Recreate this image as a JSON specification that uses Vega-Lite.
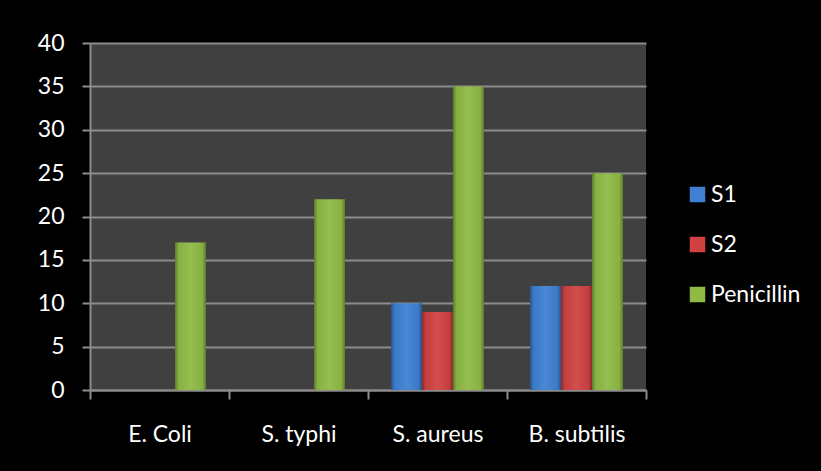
{
  "$schema": "https://vega.github.io/schema/vega-lite/v6.json",
  "autosize": {"type": "none"},
  "width": 556,
  "height": 347,
  "padding": {"left": 90, "top": 43, "right": 175, "bottom": 81},
  "background": "#000000",
  "view": {"fill": "#404040", "stroke": null},
  "config": {"font": "Lato"},
  "data": {
    "values": [
      {"organism": "E. Coli", "series": "S1", "value": 0},
      {"organism": "E. Coli", "series": "S2", "value": 0},
      {"organism": "E. Coli", "series": "Penicillin", "value": 17},
      {"organism": "S. typhi", "series": "S1", "value": 0},
      {"organism": "S. typhi", "series": "S2", "value": 0},
      {"organism": "S. typhi", "series": "Penicillin", "value": 22},
      {"organism": "S. aureus", "series": "S1", "value": 10},
      {"organism": "S. aureus", "series": "S2", "value": 9},
      {"organism": "S. aureus", "series": "Penicillin", "value": 35},
      {"organism": "B. subtilis", "series": "S1", "value": 12},
      {"organism": "B. subtilis", "series": "S2", "value": 12},
      {"organism": "B. subtilis", "series": "Penicillin", "value": 25}
    ]
  },
  "encoding": {
    "x": {
      "field": "organism", "type": "nominal", "sort": null,
      "scale": {"paddingInner": 0, "paddingOuter": 0},
      "axis": {
        "title": null, "labelAngle": 0, "labelColor": "#ffffff", "labelFontSize": 23,
        "labelPadding": 24, "domainColor": "#8c8c8c", "domainWidth": 2,
        "tickColor": "#8c8c8c", "tickWidth": 2, "tickSize": 9, "tickBand": "extent", "grid": false
      }
    },
    "xOffset": {
      "field": "series", "type": "nominal", "sort": ["S1", "S2", "Penicillin"],
      "scale": {"paddingInner": 0, "paddingOuter": 0.742}
    },
    "y": {
      "field": "value", "type": "quantitative",
      "scale": {"domain": [0, 40], "nice": false},
      "axis": {
        "title": null, "values": [0, 5, 10, 15, 20, 25, 30, 35, 40],
        "labelColor": "#ffffff", "labelFontSize": 23, "labelPadding": 18,
        "domainColor": "#8c8c8c", "domainWidth": 2,
        "tickColor": "#8c8c8c", "tickWidth": 2, "tickSize": 8,
        "gridColor": "#8c8c8c", "gridWidth": 2
      }
    }
  },
  "layer": [
    {
      "mark": {"type": "bar"},
      "encoding": {
        "color": {
          "field": "series", "type": "nominal", "sort": ["S1", "S2", "Penicillin"],
          "scale": {"domain": ["S1", "S2", "Penicillin"], "range": ["#3f80d2", "#d04242", "#8fba46"]},
          "legend": {
            "title": null, "orient": "none", "legendX": 596, "legendY": 140,
            "symbolType": "square", "symbolSize": 240, "symbolStrokeWidth": 0,
            "labelColor": "#ffffff", "labelFontSize": 23, "rowPadding": 26, "labelOffset": 2
          }
        }
      }
    },
    {
      "mark": {
        "type": "bar",
        "color": {
          "gradient": "linear", "x1": 0, "x2": 1, "y1": 0, "y2": 0,
          "stops": [
            {"offset": 0, "color": "rgba(0,0,0,0.35)"},
            {"offset": 0.12, "color": "rgba(0,0,0,0.05)"},
            {"offset": 0.5, "color": "rgba(255,255,255,0.06)"},
            {"offset": 0.88, "color": "rgba(0,0,0,0.05)"},
            {"offset": 1, "color": "rgba(0,0,0,0.35)"}
          ]
        }
      },
      "encoding": {}
    }
  ]
}
